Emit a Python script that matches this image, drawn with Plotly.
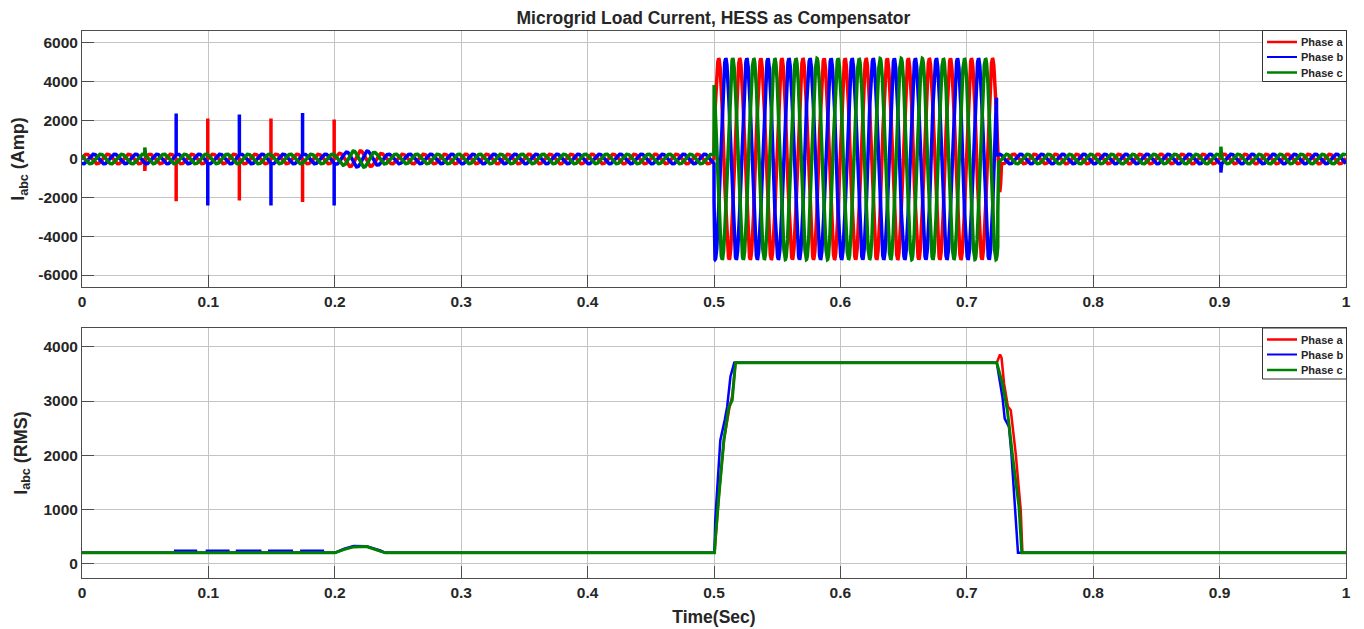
import numpy as np
import plotly.graph_objects as go
from plotly.subplots import make_subplots

# ---------------- data ----------------
PHASE_NAMES = ["Phase a", "Phase b", "Phase c"]
PHASE_COLORS = ["#ff0000", "#0000ff", "#008000"]
FREQ_HZ = 60
PHASE_SHIFT_DEG = [10, -110, 130]

# peak-amplitude envelope of the instantaneous load current (Amp): breakpoints
ENV_T_A = [0, 0.2, 0.215, 0.225, 0.24, 0.5, 0.5001, 0.7250, 0.7275, 1.0]
ENV_A = [250, 250, 420, 420, 250, 250, 5200, 5200, 250, 250]
ENV_T_B = [0, 0.2, 0.215, 0.225, 0.24, 0.5, 0.5001, 0.7235, 0.7236, 1.0]
ENV_B = [250, 250, 420, 420, 250, 250, 5200, 5200, 250, 250]
ENV_T_C = [0, 0.2, 0.215, 0.225, 0.24, 0.5, 0.5001, 0.7245, 0.7246, 1.0]
ENV_C = [250, 250, 420, 420, 250, 250, 5200, 5200, 250, 250]

# switching spikes in the instantaneous current (time, peak Amp)
SPIKE_T_A = [0.0497, 0.0745, 0.0995, 0.1245, 0.1495, 0.1745, 0.1995]
SPIKE_A = [-620, -2190, 2090, -2150, 2090, -2220, 2040]
SPIKE_T_B = [0.0745, 0.0995, 0.1245, 0.1495, 0.1745, 0.1995, 0.901]
SPIKE_B = [2350, -2410, 2300, -2410, 2380, -2410, -700]
SPIKE_T_C = [0.0497, 0.901]
SPIKE_C = [600, 640]

# RMS current (Amp) breakpoints
RMS_T_A = [0, 0.2, 0.207, 0.215, 0.225, 0.235, 0.24, 0.5004, 0.5012, 0.504, 0.508,
           0.512, 0.5145, 0.517, 0.7237, 0.7263, 0.7275, 0.7295, 0.7325, 0.7348,
           0.7387, 0.7427, 0.744, 1.0]
RMS_A = [195, 195, 260, 315, 315, 240, 195, 195, 450, 1300, 2300,
         2850, 3100, 3710, 3710, 3860, 3800, 3320, 2900, 2830,
         2030, 980, 195, 195]
RMS_T_B = [0, 0.0736, 0.0737, 0.0902, 0.0903, 0.0987, 0.0988, 0.1158, 0.1159,
           0.1225, 0.1226, 0.141, 0.1411, 0.148, 0.1481, 0.166, 0.1661,
           0.1734, 0.1735, 0.1906, 0.1907, 0.2, 0.207, 0.215, 0.225, 0.236, 0.24,
           0.5003, 0.501, 0.503, 0.505, 0.5085, 0.5104, 0.513, 0.516,
           0.7237, 0.7282, 0.730, 0.7334, 0.7353, 0.738, 0.740, 0.7405, 1.0]
RMS_B = [195, 195, 235, 235, 195, 195, 235, 235, 195,
         195, 235, 235, 195, 195, 235, 235, 195,
         195, 235, 235, 195, 195, 265, 320, 315, 240, 195,
         195, 800, 1600, 2275, 2650, 2890, 3450, 3710,
         3710, 3075, 2674, 2520, 2029, 1106, 245, 195, 195]
RMS_T_C = [0, 0.2, 0.207, 0.215, 0.225, 0.235, 0.24, 0.5004, 0.5012, 0.5038, 0.5078,
           0.5117, 0.5144, 0.517, 0.7237, 0.7282, 0.7321, 0.736, 0.7413, 0.7435, 1.0]
RMS_C = [195, 195, 255, 305, 310, 235, 195, 195, 490, 1229, 2275,
         2890, 3013, 3710, 3710, 3321, 2828, 2029, 1044, 195, 195]

X_TICKS = [0, 0.1, 0.2, 0.3, 0.4, 0.5, 0.6, 0.7, 0.8, 0.9, 1]
X_TICK_TEXT = ["0", "0.1", "0.2", "0.3", "0.4", "0.5", "0.6", "0.7", "0.8", "0.9", "1"]
Y1_TICKS = [-6000, -4000, -2000, 0, 2000, 4000, 6000]
Y2_TICKS = [0, 1000, 2000, 3000, 4000]

# ---------------- build waveforms ----------------
t = np.linspace(0, 1, 24001)
env_t = [ENV_T_A, ENV_T_B, ENV_T_C]
env_v = [ENV_A, ENV_B, ENV_C]
spk_t = [SPIKE_T_A, SPIKE_T_B, SPIKE_T_C]
spk_v = [SPIKE_A, SPIKE_B, SPIKE_C]
rms_t = [RMS_T_A, RMS_T_B, RMS_T_C]
rms_v = [RMS_A, RMS_B, RMS_C]

inst = []
for k in range(3):
    env = np.interp(t, env_t[k], env_v[k])
    y = env * np.sin(2 * np.pi * FREQ_HZ * t + np.deg2rad(PHASE_SHIFT_DEG[k]))
    xs = list(t)
    ys = list(y)
    for ts, pk in zip(spk_t[k], spk_v[k]):
        e = np.interp(ts, env_t[k], env_v[k])
        base = e * np.sin(2 * np.pi * FREQ_HZ * ts + np.deg2rad(PHASE_SHIFT_DEG[k]))
        xs += [ts - 1e-6, ts, ts + 1e-6]
        ys += [base, pk, base]
    xs = np.array(xs)
    ys = np.array(ys)
    order = np.argsort(xs, kind="stable")
    inst.append((np.round(xs[order], 6), np.round(ys[order], 1)))

fig = make_subplots(rows=2, cols=1, shared_xaxes=False, vertical_spacing=0.075)

for k in range(3):
    fig.add_trace(go.Scatter(x=inst[k][0], y=inst[k][1], mode="lines", name=PHASE_NAMES[k],
                             line=dict(color=PHASE_COLORS[k], width=3.5),
                             showlegend=False), row=1, col=1)
for k in range(3):
    fig.add_trace(go.Scatter(x=rms_t[k], y=rms_v[k], mode="lines", name=PHASE_NAMES[k],
                             line=dict(color=PHASE_COLORS[k], width=3 if k == 2 else 2.5),
                             showlegend=False), row=2, col=1)

FONT = "Liberation Sans, Arial, sans-serif"
TXT = "#262626"
axis_common = dict(showline=True, mirror=True, linecolor="#4d4d4d", linewidth=1,
                   showgrid=True, gridcolor="#c4c4c4", gridwidth=1, zeroline=False,
                   ticks="inside", ticklen=12, tickcolor="#4d4d4d", automargin=False,
                   tickfont=dict(family=FONT, size=15.5, color=TXT))

W, H = 1364, 629
PL, PR, PT, PB = 82, 1346, 31, 578
top_dom = [(PB - 287) / (PB - PT), 1.0]
bot_dom = [0.0, (PB - 328) / (PB - PT)]


def px_x(p):
    return (p - PL) / (PR - PL)


def px_y(p):
    return (PB - p) / (PB - PT)


# legend boxes (drawn in paper coordinates)
shapes = []
annotations = []
for box_top in (30.5, 328):
    shapes.append(dict(type="rect", xref="paper", yref="paper",
                       x0=px_x(1262.5), x1=px_x(1346.5), y0=px_y(box_top + 51), y1=px_y(box_top),
                       line=dict(color="#333333", width=1), fillcolor="white", layer="above"))
    for i, off in enumerate((11.5, 26.5, 42)):
        yy = px_y(box_top + off)
        shapes.append(dict(type="line", xref="paper", yref="paper",
                           x0=px_x(1267), x1=px_x(1297), y0=yy, y1=yy,
                           line=dict(color=PHASE_COLORS[i], width=2.5 if i != 1 else 2),
                           layer="above"))
        annotations.append(dict(xref="paper", yref="paper", x=px_x(1299), y=yy,
                                xanchor="left", yanchor="middle", showarrow=False,
                                text="<b>%s</b>" % PHASE_NAMES[i],
                                font=dict(family=FONT, size=11, color=TXT)))

fig.update_layout(
    width=W, height=H,
    margin=dict(l=PL, r=W - PR, t=PT, b=H - PB, autoexpand=False),
    paper_bgcolor="white", plot_bgcolor="white",
    title=dict(text="<b>Microgrid Load Current, HESS as Compensator</b>",
               x=0.523, xanchor="center", y=1 - 18 / H, yanchor="middle",
               font=dict(family=FONT, size=17.5, color=TXT)),
    xaxis=dict(range=[0, 1], tickvals=X_TICKS, ticktext=["<b>%s</b>" % s for s in X_TICK_TEXT],
               domain=[0, 1], **axis_common),
    yaxis=dict(range=[-6620, 6620], tickvals=Y1_TICKS,
               ticktext=["<b>%d</b>" % v for v in Y1_TICKS], domain=top_dom,
               title=dict(text="<b>I<sub>abc</sub> (Amp)</b>", standoff=8,
                          font=dict(family=FONT, size=18, color=TXT)),
               **axis_common),
    xaxis2=dict(range=[0, 1], tickvals=X_TICKS, ticktext=["<b>%s</b>" % s for s in X_TICK_TEXT],
                domain=[0, 1],
                title=dict(text="<b>Time(Sec)</b>", standoff=11,
                           font=dict(family=FONT, size=17.5, color=TXT)),
                **axis_common),
    yaxis2=dict(range=[-270, 4350], tickvals=Y2_TICKS,
                ticktext=["<b>%d</b>" % v for v in Y2_TICKS], domain=bot_dom,
                title=dict(text="<b>I<sub>abc</sub> (RMS)</b>", standoff=11,
                           font=dict(family=FONT, size=18, color=TXT)),
                **axis_common),
    shapes=shapes,
    annotations=annotations,
    showlegend=False,
)

fig.write_html("out.html", config={"displayModeBar": False},
               post_script="document.body.style.margin='0px';document.body.style.overflow='hidden';")
